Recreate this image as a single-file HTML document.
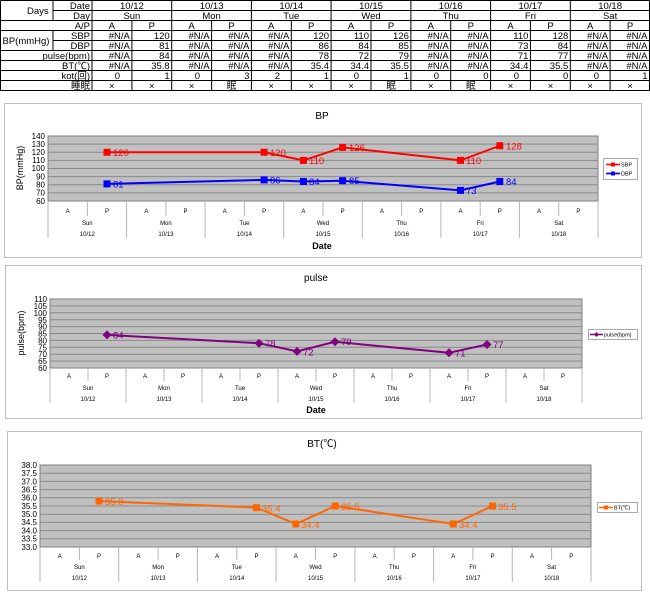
<!DOCTYPE html>
<html><head><meta charset="utf-8"><style>
body{margin:0;background:#fff}
svg{display:block;font-family:"Liberation Sans","Noto Sans CJK JP",sans-serif}
</style></head><body>
<svg width="650" height="594" viewBox="0 0 650 594" xmlns="http://www.w3.org/2000/svg">
<!-- TABLE -->
<g stroke="#000" stroke-width="1" fill="none">
<path d="M0.5 0.5H649.5M53 10.5H649.5M0.5 20.5H649.5M0.5 30.5H649.5M53 40.5H649.5M0.5 50.5H649.5M0.5 60.5H649.5M0.5 70.5H649.5M0.5 80.5H649.5M0.5 90.5H649.5"/>
<path d="M0.5 0.5V90.5M92 0.5V90.5M53 0.5V20.5M53 30.5V50.5M171.7 0.5V90.5M251.4 0.5V90.5M331.1 0.5V90.5M410.9 0.5V90.5M490.6 0.5V90.5M570.3 0.5V90.5M649.5 0.5V90.5"/>
<path d="M131.9 20.5V90.5M211.6 20.5V90.5M291.3 20.5V90.5M371 20.5V90.5M450.7 20.5V90.5M530.4 20.5V90.5M610.1 20.5V90.5"/>
</g>
<g font-size="9.5" fill="#000">
<text x="27" y="14">Days</text>
<text x="26" y="44" text-anchor="middle">BP(mmHg)</text>
<g text-anchor="end">
<text x="90" y="9">Date</text><text x="90" y="19">Day</text><text x="90" y="29">A/P</text>
<text x="90" y="39">SBP</text><text x="90" y="49">DBP</text><text x="90" y="59">pulse(bpm)</text>
<text x="90" y="69">BT(℃)</text><text x="90" y="79">kot(回)</text><text x="90" y="89">睡眠</text>
</g>
<g text-anchor="middle">
<text x="131.9" y="9">10/12</text><text x="211.6" y="9">10/13</text><text x="291.3" y="9">10/14</text><text x="371" y="9">10/15</text><text x="450.7" y="9">10/16</text><text x="530.4" y="9">10/17</text><text x="610.1" y="9">10/18</text>
<text x="131.9" y="19">Sun</text><text x="211.6" y="19">Mon</text><text x="291.3" y="19">Tue</text><text x="371" y="19">Wed</text><text x="450.7" y="19">Thu</text><text x="530.4" y="19">Fri</text><text x="610.1" y="19">Sat</text>
<text x="111.8" y="29">A</text><text x="151.8" y="29">P</text><text x="191.5" y="29">A</text><text x="231.5" y="29">P</text><text x="271.2" y="29">A</text><text x="311.2" y="29">P</text><text x="351" y="29">A</text><text x="391" y="29">P</text><text x="430.8" y="29">A</text><text x="470.8" y="29">P</text><text x="510.5" y="29">A</text><text x="550.5" y="29">P</text><text x="590.2" y="29">A</text><text x="630" y="29">P</text>
<text x="111.8" y="89">×</text><text x="151.8" y="89">×</text><text x="191.5" y="89">×</text><text x="231.5" y="89">眠</text><text x="271.2" y="89">×</text><text x="311.2" y="89">×</text><text x="351" y="89">×</text><text x="391" y="89">眠</text><text x="430.8" y="89">×</text><text x="470.8" y="89">眠</text><text x="510.5" y="89">×</text><text x="550.5" y="89">×</text><text x="590.2" y="89">×</text><text x="630" y="89">×</text>
</g>
<g text-anchor="end">
<text x="129.9" y="39">#N/A</text><text x="169.7" y="39">120</text><text x="209.6" y="39">#N/A</text><text x="249.4" y="39">#N/A</text><text x="289.3" y="39">#N/A</text><text x="329.1" y="39">120</text><text x="369" y="39">110</text><text x="408.9" y="39">126</text><text x="448.7" y="39">#N/A</text><text x="488.6" y="39">#N/A</text><text x="528.4" y="39">110</text><text x="568.3" y="39">128</text><text x="608.1" y="39">#N/A</text><text x="647.5" y="39">#N/A</text>
<text x="129.9" y="49">#N/A</text><text x="169.7" y="49">81</text><text x="209.6" y="49">#N/A</text><text x="249.4" y="49">#N/A</text><text x="289.3" y="49">#N/A</text><text x="329.1" y="49">86</text><text x="369" y="49">84</text><text x="408.9" y="49">85</text><text x="448.7" y="49">#N/A</text><text x="488.6" y="49">#N/A</text><text x="528.4" y="49">73</text><text x="568.3" y="49">84</text><text x="608.1" y="49">#N/A</text><text x="647.5" y="49">#N/A</text>
<text x="129.9" y="59">#N/A</text><text x="169.7" y="59">84</text><text x="209.6" y="59">#N/A</text><text x="249.4" y="59">#N/A</text><text x="289.3" y="59">#N/A</text><text x="329.1" y="59">78</text><text x="369" y="59">72</text><text x="408.9" y="59">79</text><text x="448.7" y="59">#N/A</text><text x="488.6" y="59">#N/A</text><text x="528.4" y="59">71</text><text x="568.3" y="59">77</text><text x="608.1" y="59">#N/A</text><text x="647.5" y="59">#N/A</text>
<text x="129.9" y="69">#N/A</text><text x="169.7" y="69">35.8</text><text x="209.6" y="69">#N/A</text><text x="249.4" y="69">#N/A</text><text x="289.3" y="69">#N/A</text><text x="329.1" y="69">35.4</text><text x="369" y="69">34.4</text><text x="408.9" y="69">35.5</text><text x="448.7" y="69">#N/A</text><text x="488.6" y="69">#N/A</text><text x="528.4" y="69">34.4</text><text x="568.3" y="69">35.5</text><text x="608.1" y="69">#N/A</text><text x="647.5" y="69">#N/A</text>
<text x="120" y="79">0</text><text x="169.7" y="79">1</text><text x="200" y="79">0</text><text x="249.4" y="79">3</text><text x="280" y="79">2</text><text x="329.1" y="79">1</text><text x="359" y="79">0</text><text x="408.9" y="79">1</text><text x="439" y="79">0</text><text x="488.6" y="79">0</text><text x="519" y="79">0</text><text x="568.3" y="79">0</text><text x="599" y="79">0</text><text x="647.5" y="79">1</text>
</g>
</g>

<!-- BP CHART -->
<rect x="4.5" y="103.5" width="637" height="154" fill="#fff" stroke="#bdbdbd"/>
<text x="322" y="119" font-size="10" text-anchor="middle">BP</text>
<rect x="48" y="136" width="550" height="65" fill="#c0c0c0" stroke="#808080"/>
<path d="M48 144.1H598M48 152.25H598M48 160.4H598M48 168.5H598M48 176.6H598M48 184.75H598M48 192.9H598" stroke="#8a8a8a" stroke-width="1"/>
<g font-size="8" text-anchor="end">
<text x="45" y="139">140</text><text x="45" y="147">130</text><text x="45" y="155">120</text><text x="45" y="163">110</text><text x="45" y="171">100</text><text x="45" y="179.5">90</text><text x="45" y="187.5">80</text><text x="45" y="195.5">70</text><text x="45" y="204">60</text>
</g>
<text transform="translate(23,168) rotate(-90)" font-size="9" text-anchor="middle">BP(mmHg)</text>
<path d="M48 201V238M126.6 201V238M205.1 201V238M283.7 201V238M362.3 201V238M440.9 201V238M519.4 201V238M598 201V238M87.3 201V216M165.9 201V216M244.4 201V216M323 201V216M401.6 201V216M480.2 201V216M558.7 201V216" stroke="#b5b5b5"/>
<g font-size="6" text-anchor="middle">
<text x="67.6" y="213">A</text><text x="107" y="213">P</text><text x="146.2" y="213">A</text><text x="185.5" y="213">P</text><text x="224.8" y="213">A</text><text x="264.1" y="213">P</text><text x="303.4" y="213">A</text><text x="342.6" y="213">P</text><text x="381.9" y="213">A</text><text x="421.2" y="213">P</text><text x="460.5" y="213">A</text><text x="499.8" y="213">P</text><text x="539.1" y="213">A</text><text x="578.4" y="213">P</text>
<text x="87.3" y="225">Sun</text><text x="165.9" y="225">Mon</text><text x="244.4" y="225">Tue</text><text x="323" y="225">Wed</text><text x="401.6" y="225">Thu</text><text x="480.2" y="225">Fri</text><text x="558.7" y="225">Sat</text>
<text x="87.3" y="236">10/12</text><text x="165.9" y="236">10/13</text><text x="244.4" y="236">10/14</text><text x="323" y="236">10/15</text><text x="401.6" y="236">10/16</text><text x="480.2" y="236">10/17</text><text x="558.7" y="236">10/18</text>
</g>
<text x="322" y="249" font-size="9" font-weight="bold" text-anchor="middle">Date</text>
<polyline points="107,152.25 264.1,152.25 303.4,160.4 342.6,147.4 460.5,160.4 499.8,145.75" fill="none" stroke="#ff0000" stroke-width="2"/>
<polyline points="107,183.9 264.1,179.9 303.4,181.5 342.6,180.7 460.5,190.4 499.8,181.5" fill="none" stroke="#0000ff" stroke-width="2"/>
<g fill="#ff0000"><rect x="103.5" y="148.75" width="7" height="7"/><rect x="260.6" y="148.75" width="7" height="7"/><rect x="299.9" y="156.9" width="7" height="7"/><rect x="339.1" y="143.9" width="7" height="7"/><rect x="457" y="156.9" width="7" height="7"/><rect x="496.3" y="142.25" width="7" height="7"/></g>
<g fill="#0000ff"><rect x="103.5" y="180.4" width="7" height="7"/><rect x="260.6" y="176.4" width="7" height="7"/><rect x="299.9" y="178" width="7" height="7"/><rect x="339.1" y="177.2" width="7" height="7"/><rect x="457" y="186.9" width="7" height="7"/><rect x="496.3" y="178" width="7" height="7"/></g>
<g font-size="9.5" fill="#ff0000"><text x="113" y="156">120</text><text x="270" y="156">120</text><text x="309" y="164">110</text><text x="349" y="151">126</text><text x="466" y="164">110</text><text x="506" y="149.5">128</text></g>
<g font-size="9.5" fill="#0000ff"><text x="113" y="187.5">81</text><text x="270" y="183.5">86</text><text x="309" y="185">84</text><text x="349" y="184">85</text><text x="466" y="194">73</text><text x="506" y="185">84</text></g>
<rect x="603.5" y="158.5" width="34" height="21" fill="#fff" stroke="#aaa"/>
<path d="M606 164.5H620M606 173.5H620" stroke-width="1.5" stroke="#f00"/><path d="M606 173.5H620" stroke-width="1.5" stroke="#00f"/>
<rect x="611" y="162.5" width="4" height="4" fill="#f00"/><rect x="611" y="171.5" width="4" height="4" fill="#00f"/>
<text x="621" y="166.5" font-size="5.5">SBP</text><text x="621" y="175.5" font-size="5.5">DBP</text>

<!-- PULSE CHART -->
<rect x="5.5" y="265.5" width="636" height="153" fill="#fff" stroke="#bdbdbd"/>
<text x="316" y="281" font-size="10" text-anchor="middle">pulse</text>
<rect x="50" y="299" width="532" height="69" fill="#c0c0c0" stroke="#808080"/>
<path d="M50 305.9H582M50 312.8H582M50 319.7H582M50 326.6H582M50 333.5H582M50 340.4H582M50 347.3H582M50 354.2H582M50 361.1H582" stroke="#8a8a8a"/>
<g font-size="8" text-anchor="end">
<text x="47" y="302">110</text><text x="47" y="309">105</text><text x="47" y="316">100</text><text x="47" y="323">95</text><text x="47" y="329.5">90</text><text x="47" y="336.5">85</text><text x="47" y="343.5">80</text><text x="47" y="350.5">75</text><text x="47" y="357">70</text><text x="47" y="364">65</text><text x="47" y="371">60</text>
</g>
<text transform="translate(24,333) rotate(-90)" font-size="9" text-anchor="middle">pulse(bpm)</text>
<path d="M50 368V403M126 368V403M202 368V403M278 368V403M354 368V403M430 368V403M506 368V403M582 368V403M88 368V381M164 368V381M240 368V381M316 368V381M392 368V381M468 368V381M544 368V381" stroke="#b5b5b5"/>
<g font-size="6" text-anchor="middle">
<text x="69" y="378">A</text><text x="107" y="378">P</text><text x="145" y="378">A</text><text x="183" y="378">P</text><text x="221" y="378">A</text><text x="259" y="378">P</text><text x="297" y="378">A</text><text x="335" y="378">P</text><text x="373" y="378">A</text><text x="411" y="378">P</text><text x="449" y="378">A</text><text x="487" y="378">P</text><text x="525" y="378">A</text><text x="563" y="378">P</text>
<text x="88" y="390">Sun</text><text x="164" y="390">Mon</text><text x="240" y="390">Tue</text><text x="316" y="390">Wed</text><text x="392" y="390">Thu</text><text x="468" y="390">Fri</text><text x="544" y="390">Sat</text>
<text x="88" y="401">10/12</text><text x="164" y="401">10/13</text><text x="240" y="401">10/14</text><text x="316" y="401">10/15</text><text x="392" y="401">10/16</text><text x="468" y="401">10/17</text><text x="544" y="401">10/18</text>
</g>
<text x="316" y="413" font-size="9" font-weight="bold" text-anchor="middle">Date</text>
<polyline points="107,334.9 259,343.2 297,351.4 335,341.8 449,352.8 487,344.5" fill="none" stroke="#800080" stroke-width="2"/>
<g fill="#800080"><path d="M107 330.4l4.5 4.5-4.5 4.5-4.5-4.5z"/><path d="M259 338.7l4.5 4.5-4.5 4.5-4.5-4.5z"/><path d="M297 346.9l4.5 4.5-4.5 4.5-4.5-4.5z"/><path d="M335 337.3l4.5 4.5-4.5 4.5-4.5-4.5z"/><path d="M449 348.3l4.5 4.5-4.5 4.5-4.5-4.5z"/><path d="M487 340l4.5 4.5-4.5 4.5-4.5-4.5z"/></g>
<g font-size="9.5" fill="#800080"><text x="113" y="338.5">84</text><text x="265" y="346.5">78</text><text x="303" y="355.5">72</text><text x="341" y="345">79</text><text x="455" y="356.5">71</text><text x="493" y="348">77</text></g>
<rect x="588.5" y="329.5" width="49" height="10" fill="#fff" stroke="#aaa"/>
<path d="M590 334.5H603" stroke="#800080" stroke-width="1.5"/><path d="M596.5 332l2.5 2.5-2.5 2.5-2.5-2.5z" fill="#800080"/>
<text x="604" y="336.5" font-size="5.5">pulse(bpm)</text>

<!-- BT CHART -->
<rect x="7.5" y="431.5" width="634" height="159" fill="#fff" stroke="#bdbdbd"/>
<text x="322" y="447" font-size="10" text-anchor="middle">BT(℃)</text>
<rect x="40" y="465" width="551" height="82" fill="#c0c0c0" stroke="#808080"/>
<path d="M40 473.2H591M40 481.4H591M40 489.6H591M40 497.8H591M40 506H591M40 514.2H591M40 522.4H591M40 530.6H591M40 538.8H591" stroke="#8a8a8a"/>
<g font-size="8" text-anchor="end">
<text x="37" y="468">38.0</text><text x="37" y="476">37.5</text><text x="37" y="484.5">37.0</text><text x="37" y="492.5">36.5</text><text x="37" y="500.5">36.0</text><text x="37" y="509">35.5</text><text x="37" y="517">35.0</text><text x="37" y="525">34.5</text><text x="37" y="533.5">34.0</text><text x="37" y="541.5">33.5</text><text x="37" y="550">33.0</text>
</g>
<path d="M40 547V582M118.7 547V582M197.4 547V582M276.1 547V582M354.9 547V582M433.6 547V582M512.3 547V582M591 547V582M79.4 547V560M158.1 547V560M236.8 547V560M315.5 547V560M394.2 547V560M472.9 547V560M551.6 547V560" stroke="#b5b5b5"/>
<g font-size="6" text-anchor="middle">
<text x="59.7" y="558">A</text><text x="99" y="558">P</text><text x="138.4" y="558">A</text><text x="177.8" y="558">P</text><text x="217.1" y="558">A</text><text x="256.5" y="558">P</text><text x="295.8" y="558">A</text><text x="335.2" y="558">P</text><text x="374.6" y="558">A</text><text x="413.9" y="558">P</text><text x="453.3" y="558">A</text><text x="492.6" y="558">P</text><text x="532" y="558">A</text><text x="571.3" y="558">P</text>
<text x="79.4" y="569">Sun</text><text x="158.1" y="569">Mon</text><text x="236.8" y="569">Tue</text><text x="315.5" y="569">Wed</text><text x="394.2" y="569">Thu</text><text x="472.9" y="569">Fri</text><text x="551.6" y="569">Sat</text>
<text x="79.4" y="580">10/12</text><text x="158.1" y="580">10/13</text><text x="236.8" y="580">10/14</text><text x="315.5" y="580">10/15</text><text x="394.2" y="580">10/16</text><text x="472.9" y="580">10/17</text><text x="551.6" y="580">10/18</text>
</g>
<polyline points="99,501.1 256.5,507.6 295.8,524 335.2,506 453.3,524 492.6,506" fill="none" stroke="#ff6600" stroke-width="2"/>
<g fill="#ff6600"><rect x="95.5" y="497.6" width="7" height="7"/><rect x="253" y="504.1" width="7" height="7"/><rect x="292.3" y="520.5" width="7" height="7"/><rect x="331.7" y="502.5" width="7" height="7"/><rect x="449.8" y="520.5" width="7" height="7"/><rect x="489.1" y="502.5" width="7" height="7"/></g>
<g font-size="9.5" fill="#ff6600"><text x="105" y="505">35.8</text><text x="262" y="511.5">35.4</text><text x="301" y="528">34.4</text><text x="341" y="510">35.5</text><text x="459" y="528">34.4</text><text x="498" y="510">35.5</text></g>
<rect x="597.5" y="502.5" width="40" height="10" fill="#fff" stroke="#aaa"/>
<path d="M599 507.5H613" stroke="#ff6600" stroke-width="1.5"/><rect x="604" y="505.5" width="4" height="4" fill="#ff6600"/>
<text x="614" y="509.5" font-size="5.5">BT(℃)</text>
</svg>
</body></html>
